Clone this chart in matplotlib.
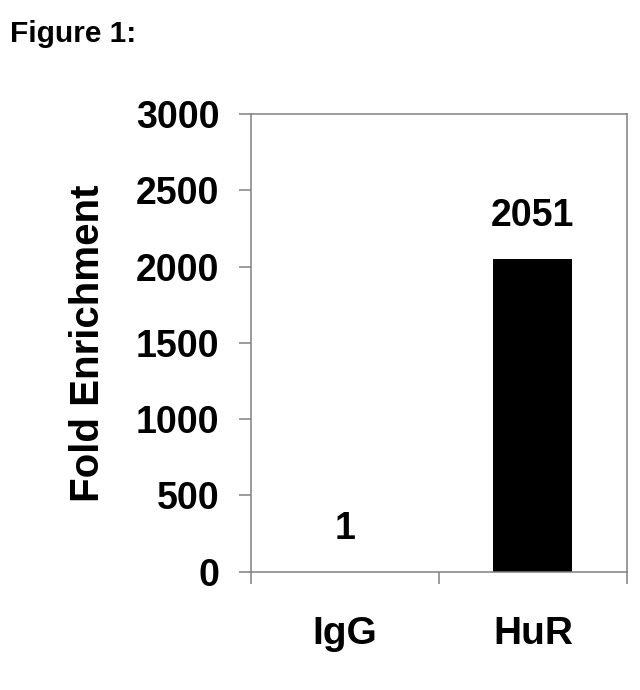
import matplotlib.pyplot as plt
from matplotlib.ticker import FixedLocator

# values
groups = ['IgG', 'HuR']
fold = [1, 2051]
yticks = [0, 500, 1000, 1500, 2000, 2500, 3000]

plt.rcParams['font.family'] = ['Liberation Sans', 'DejaVu Sans']
plt.rcParams['font.weight'] = 'bold'

gray = '#808080'

fig = plt.figure(figsize=(6.4, 6.9), dpi=100)
ax = fig.add_axes([0.392, 0.1714, 0.5875, 0.6635])

x = list(range(len(groups)))
ax.bar(x, fold, width=0.42, color='black')

# value labels above each bar
for xi, v in zip(x, fold):
    ax.annotate(str(v), (xi, v), xytext=(0, 18), textcoords='offset points',
                ha='center', va='bottom', fontsize=27, fontweight='bold')

ax.set_xlim(-0.5, len(groups) - 0.5)
ax.set_ylim(0, 3000)
ax.set_yticks(yticks)
ax.set_xticks(x)
ax.set_xticklabels(groups)
ax.xaxis.set_minor_locator(FixedLocator([-0.5, 0.5, 1.5]))

for s in ax.spines.values():
    s.set_color(gray)
    s.set_linewidth(1.1)

ax.tick_params(axis='y', length=8.6, width=1.1, color=gray, pad=14,
               labelsize=27, direction='out')
ax.tick_params(axis='x', which='major', length=0, pad=32, labelsize=28)
ax.tick_params(axis='x', which='minor', length=8.6, width=1.1, color=gray,
               direction='out')
for lab in ax.get_xticklabels() + ax.get_yticklabels():
    lab.set_fontweight('bold')

ax.set_ylabel('Fold Enrichment', fontsize=29, fontweight='bold', labelpad=21)

fig.text(0.016, 0.95, 'Figure 1:', fontsize=21.5, fontweight='bold',
         ha='left', va='center')

fig.savefig('out.png', dpi=100)
